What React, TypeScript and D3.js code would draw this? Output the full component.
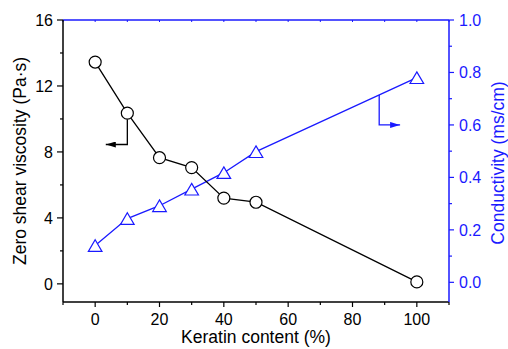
import { useRef, useEffect } from "react";
import * as d3 from "d3";

// Keratin content (%) on the x axis
const keratin = [0, 10, 20, 30, 40, 50, 100];
// Zero shear viscosity (Pa·s), left axis
const viscosity = [13.45, 10.35, 7.65, 7.05, 5.2, 4.95, 0.12];
// Conductivity (ms/cm), right axis
const conductivity = [0.14, 0.243, 0.292, 0.355, 0.418, 0.498, 0.78];

const xTicks = [0, 20, 40, 60, 80, 100];
const xMinor = [-10, 10, 30, 50, 70, 90, 110];
const yLeftTicks = [0, 4, 8, 12, 16];
const yLeftMinor = [2, 6, 10, 14];
const yRightTicks = [0, 0.2, 0.4, 0.6, 0.8, 1.0];
const yRightMinor = [0.1, 0.3, 0.5, 0.7, 0.9];

// arrow annotations (data units)
const viscArrow = { x: 10, yTurn: 8.45, xEnd: 3.3 };
const condArrow = { x: 88.3, yTurn: 0.6, xEnd: 94.8 };

const W = 508;
const H = 349;
const BLUE = "#1a1aff";
const FONT = "Arial, 'Liberation Sans', sans-serif";

export default function App() {
  const svgRef = useRef<SVGSVGElement>(null);

  useEffect(() => {
    if (!svgRef.current) return;
    const svg = d3.select(svgRef.current);
    svg.selectAll("*").remove();

    const m = { top: 20, right: 59, bottom: 47, left: 63 };
    const iW = W - m.left - m.right;
    const iH = H - m.top - m.bottom;

    const x = d3.scaleLinear().domain([-10, 110]).range([0, iW]);
    const yL = d3.scaleLinear().domain([-1.1, 16]).range([iH, 0]);
    const yR = d3.scaleLinear().domain([-0.075, 1.0]).range([iH, 0]);

    const g = svg.append("g").attr("transform", `translate(${m.left},${m.top})`);

    // Top frame with inward minor ticks (blue)
    g.append("line").attr("x1", 0).attr("x2", iW).attr("y1", 0).attr("y2", 0)
      .attr("stroke", BLUE).attr("stroke-width", 1.5);
    g.selectAll(".ttick").data([...xTicks, ...xMinor]).enter().append("line")
      .attr("x1", (d) => x(d)).attr("x2", (d) => x(d)).attr("y1", 0).attr("y2", 2)
      .attr("stroke", BLUE).attr("stroke-width", 1);

    // Bottom axis
    const bottom = g.append("g").attr("transform", `translate(0,${iH})`);
    bottom.append("line").attr("x1", 0).attr("x2", iW).attr("stroke", "#000").attr("stroke-width", 1.5);
    bottom.selectAll(".maj").data(xTicks).enter().append("line")
      .attr("x1", (d) => x(d)).attr("x2", (d) => x(d)).attr("y1", 0).attr("y2", 5)
      .attr("stroke", "#000").attr("stroke-width", 1.2);
    bottom.selectAll(".min").data(xMinor).enter().append("line")
      .attr("x1", (d) => x(d)).attr("x2", (d) => x(d)).attr("y1", 0).attr("y2", 3)
      .attr("stroke", "#000").attr("stroke-width", 1.2);
    bottom.selectAll(".lbl").data(xTicks).enter().append("text")
      .attr("x", (d) => x(d)).attr("y", 23).attr("text-anchor", "middle")
      .attr("font-size", "16px").attr("font-family", FONT).attr("fill", "#000")
      .text((d) => String(d));
    g.append("text").attr("x", x(50)).attr("y", iH + 41).attr("text-anchor", "middle")
      .attr("font-size", "17.5px").attr("font-family", FONT).attr("fill", "#000")
      .text("Keratin content (%)");

    // Left axis
    const left = g.append("g");
    left.append("line").attr("y1", 0).attr("y2", iH).attr("stroke", "#000").attr("stroke-width", 1.5);
    left.selectAll(".maj").data(yLeftTicks).enter().append("line")
      .attr("y1", (d) => yL(d)).attr("y2", (d) => yL(d)).attr("x1", 0).attr("x2", -6)
      .attr("stroke", "#000").attr("stroke-width", 1.2);
    left.selectAll(".min").data(yLeftMinor).enter().append("line")
      .attr("y1", (d) => yL(d)).attr("y2", (d) => yL(d)).attr("x1", 0).attr("x2", -3)
      .attr("stroke", "#000").attr("stroke-width", 1.2);
    left.selectAll(".lbl").data(yLeftTicks).enter().append("text")
      .attr("x", -10).attr("y", (d) => yL(d)).attr("dy", "0.36em").attr("text-anchor", "end")
      .attr("font-size", "16px").attr("font-family", FONT).attr("fill", "#000")
      .text((d) => String(d));
    g.append("text").attr("transform", "rotate(-90)").attr("x", -iH / 2).attr("y", -37)
      .attr("text-anchor", "middle").attr("font-size", "17.5px").attr("font-family", FONT).attr("fill", "#000")
      .text("Zero shear viscosity (Pa·s)");

    // Right axis (blue)
    const right = g.append("g").attr("transform", `translate(${iW},0)`);
    right.append("line").attr("y1", 0).attr("y2", iH).attr("stroke", BLUE).attr("stroke-width", 1.5);
    right.selectAll(".maj").data(yRightTicks).enter().append("line")
      .attr("y1", (d) => yR(d)).attr("y2", (d) => yR(d)).attr("x1", 0).attr("x2", 5)
      .attr("stroke", BLUE).attr("stroke-width", 1.2);
    right.selectAll(".min").data(yRightMinor).enter().append("line")
      .attr("y1", (d) => yR(d)).attr("y2", (d) => yR(d)).attr("x1", 0).attr("x2", 3)
      .attr("stroke", BLUE).attr("stroke-width", 1.2);
    right.selectAll(".lbl").data(yRightTicks).enter().append("text")
      .attr("x", 10).attr("y", (d) => yR(d)).attr("dy", "0.36em").attr("text-anchor", "start")
      .attr("font-size", "16px").attr("font-family", FONT).attr("fill", BLUE)
      .text((d) => d3.format(".1f")(d));
    g.append("text").attr("transform", "rotate(-90)").attr("x", -iH / 2 - 2).attr("y", iW + 54.5)
      .attr("text-anchor", "middle").attr("font-size", "17.5px").attr("font-family", FONT).attr("fill", BLUE)
      .text("Conductivity (ms/cm)");

    const defs = svg.append("defs");
    defs.append("marker").attr("id", "ah-black").attr("viewBox", "0 0 10 6")
      .attr("refX", 10).attr("refY", 3).attr("markerWidth", 10).attr("markerHeight", 6)
      .attr("markerUnits", "userSpaceOnUse").attr("orient", "auto")
      .append("path").attr("d", "M0,0 L10,3 L0,6 Z").attr("fill", "#000");
    defs.append("marker").attr("id", "ah-blue").attr("viewBox", "0 0 10 6")
      .attr("refX", 10).attr("refY", 3).attr("markerWidth", 10).attr("markerHeight", 6)
      .attr("markerUnits", "userSpaceOnUse").attr("orient", "auto")
      .append("path").attr("d", "M0,0 L10,3 L0,6 Z").attr("fill", BLUE);

    // Conductivity series
    const condData = keratin.map((k, i) => [k, conductivity[i]] as [number, number]);
    g.append("path").datum(condData)
      .attr("fill", "none").attr("stroke", BLUE).attr("stroke-width", 1.3)
      .attr("d", d3.line<[number, number]>().x((d) => x(d[0])).y((d) => yR(d[1])));

    // Viscosity series
    const viscData = keratin.map((k, i) => [k, viscosity[i]] as [number, number]);
    g.append("path").datum(viscData)
      .attr("fill", "none").attr("stroke", "#000").attr("stroke-width", 1.3)
      .attr("d", d3.line<[number, number]>().x((d) => x(d[0])).y((d) => yL(d[1])));

    // Arrows
    const vi = keratin.indexOf(viscArrow.x);
    g.append("path")
      .attr("d", `M${x(viscArrow.x)},${yL(viscosity[vi]) + 6} V${yL(viscArrow.yTurn)} H${x(viscArrow.xEnd)}`)
      .attr("fill", "none").attr("stroke", "#000").attr("stroke-width", 1.3)
      .attr("marker-end", "url(#ah-black)");
    const condInterp = d3.scaleLinear().domain(keratin).range(conductivity);
    g.append("path")
      .attr("d", `M${x(condArrow.x)},${yR(condInterp(condArrow.x))} V${yR(condArrow.yTurn)} H${x(condArrow.xEnd)}`)
      .attr("fill", "none").attr("stroke", BLUE).attr("stroke-width", 1.3)
      .attr("marker-end", "url(#ah-blue)");

    // Markers
    g.selectAll(".tri").data(condData).enter().append("path")
      .attr("transform", (d) => `translate(${x(d[0])},${yR(d[1])})`)
      .attr("d", "M0,-5.8 L6.8,5.8 L-6.8,5.8 Z")
      .attr("fill", "#fff").attr("stroke", BLUE).attr("stroke-width", 1.2);
    g.selectAll(".circ").data(viscData).enter().append("circle")
      .attr("cx", (d) => x(d[0])).attr("cy", (d) => yL(d[1])).attr("r", 6)
      .attr("fill", "#fff").attr("stroke", "#000").attr("stroke-width", 1.2);
  }, []);

  return (
    <svg
      ref={svgRef}
      width={W}
      height={H}
      style={{ position: "absolute", left: 0, top: 0, background: "#fff" }}
    />
  );
}
